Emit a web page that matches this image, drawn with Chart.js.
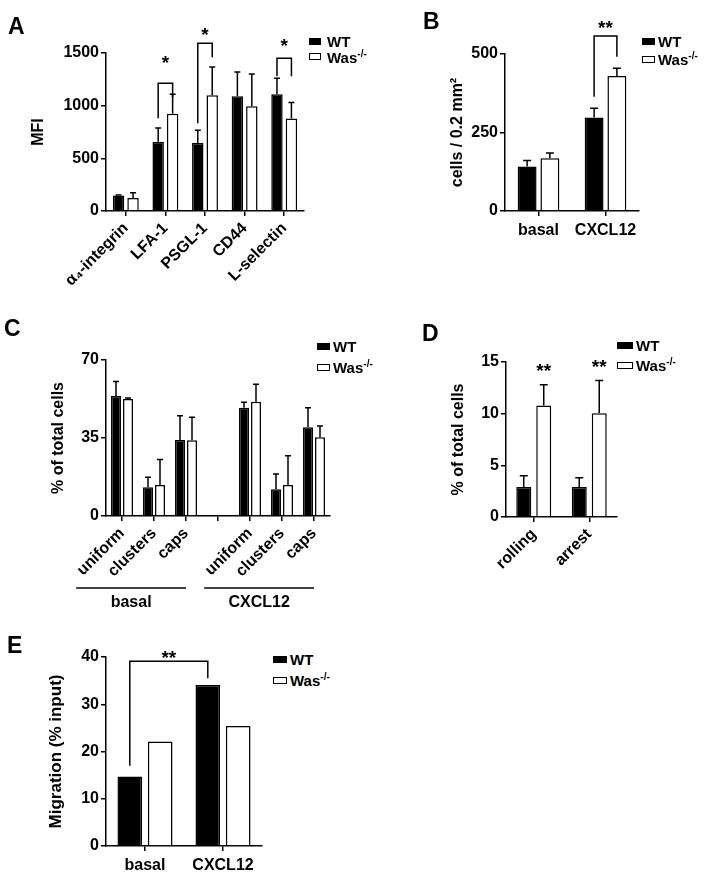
<!DOCTYPE html>
<html><head><meta charset="utf-8">
<script src="https://cdn.jsdelivr.net/npm/chart.js@4/dist/chart.umd.min.js"></script>
<style>
html,body{margin:0;padding:0;background:#fff;}
body{width:715px;height:877px;position:relative;overflow:hidden;font-family:"Liberation Sans",Arial,Helvetica,sans-serif;color:#000;}
canvas{position:absolute;}
.letter{position:absolute;font-weight:bold;font-size:23px;line-height:23px;}
.sw{position:absolute;box-sizing:border-box;height:7px;border:1.5px solid #000;background:#fff;}
.sw.f{background:#000;}
.lt{position:absolute;font-weight:bold;font-size:15px;line-height:15px;white-space:nowrap;}
.lt sup{font-size:10px;line-height:0;vertical-align:6px;}
</style>
</head>
<body>
<canvas id="cA" width="312" height="320" style="left:0;top:0"></canvas>
<canvas id="cB" width="265" height="250" style="left:380px;top:0"></canvas>
<canvas id="cC" width="340" height="300" style="left:0;top:320px"></canvas>
<canvas id="cD" width="222" height="300" style="left:400px;top:320px"></canvas>
<canvas id="cE" width="265" height="257" style="left:0;top:620px"></canvas>

<div class="letter" style="left:8px;top:15px">A</div>
<div class="letter" style="left:423px;top:10px">B</div>
<div class="letter" style="left:4px;top:317px">C</div>
<div class="letter" style="left:422px;top:322px">D</div>
<div class="letter" style="left:7px;top:634px">E</div>

<div class="sw f" style="left:309px;top:38px;width:12px"></div><div class="lt" style="left:327px;top:34px">WT</div>
<div class="sw" style="left:309px;top:53px;width:12px"></div><div class="lt" style="left:327px;top:50px">Was<sup>-/-</sup></div>

<div class="sw f" style="left:642px;top:38px;width:13px"></div><div class="lt" style="left:658px;top:34px">WT</div>
<div class="sw" style="left:642px;top:56px;width:13px"></div><div class="lt" style="left:658px;top:52px">Was<sup>-/-</sup></div>

<div class="sw f" style="left:317px;top:343px;width:13px"></div><div class="lt" style="left:333px;top:339px">WT</div>
<div class="sw" style="left:317px;top:364px;width:13px"></div><div class="lt" style="left:333px;top:360px">Was<sup>-/-</sup></div>

<div class="sw f" style="left:617px;top:342px;width:16px"></div><div class="lt" style="left:636px;top:338px">WT</div>
<div class="sw" style="left:617px;top:362px;width:16px"></div><div class="lt" style="left:636px;top:358px">Was<sup>-/-</sup></div>

<div class="sw f" style="left:273px;top:656px;width:14px"></div><div class="lt" style="left:290px;top:652px">WT</div>
<div class="sw" style="left:273px;top:677px;width:14px"></div><div class="lt" style="left:290px;top:673px">Was<sup>-/-</sup></div>

<script>
// ---------------- DATA ----------------
// Panel A (MFI)
const catA = ['\u03B1\u2084-integrin', 'LFA-1', 'PSGL-1', 'CD44', 'L-selectin'];
const wtA = [148, 658, 646, 1089, 1108];
const wtAUpper = [152, 788, 766, 1320, 1260];
const koA = [123, 924, 1098, 994, 878];
const koAUpper = [174, 1108, 1367, 1300, 1030];
const ticksA = [0, 500, 1000, 1500];
// significance brackets: [category, left-leg bottom, top, right-leg bottom, star level]
const sigA = [
  [1, 880, 1213, 1080, 1450],
  [2, 833, 1593, 1460, 1720],
  [4, 1280, 1450, 1279, 1610]
];

// Panel B (cells / 0.2 mm2)
const catB = ['basal', 'CXCL12'];
const wtB = [142, 298];
const wtBUpper = [161, 327];
const koB = [168, 430];
const koBUpper = [185, 455];
const ticksB = [0, 250, 500];
const sigB = [[1, 364, 557, 491, 599]];

// Panel C (% of total cells)
const catC = ['uniform', 'clusters', 'caps', '', 'uniform', 'clusters', 'caps'];
const wtC = [53.8, 12.9, 34.1, null, 48.6, 12.0, 39.8];
const wtCUpper = [60.3, 17.4, 45.0, null, 51.0, 18.8, 48.6];
const koC = [52.5, 13.9, 34.0, null, 51.3, 13.9, 35.3];
const koCUpper = [52.9, 25.4, 44.3, null, 59.1, 27.0, 40.4];
const ticksC = [0, 35, 70];
const groupsC = ['basal', 'CXCL12'];

// Panel D (% of total cells)
const catD = ['rolling', 'arrest'];
const wtD = [2.9, 2.9];
const wtDUpper = [4.0, 3.8];
const koD = [10.8, 10.05];
const koDUpper = [12.8, 13.2];
const ticksD = [0, 5, 10, 15];
const starsD = [[0, 14.6], [1, 15.0]];

// Panel E (Migration % input)
const catE = ['basal', 'CXCL12'];
const wtE = [14.7, 34.1];
const koE = [22.1, 25.4];
const ticksE = [0, 10, 20, 30, 40];
const sigE = [[0, 17.0, 39.1, 35.5, 40.9]]; // basal WT -> CXCL12 WT

// ---------------- RENDERING ----------------
const FONT = '"Liberation Sans", Arial, Helvetica, sans-serif';
Chart.defaults.font.family = FONT;
Chart.defaults.color = '#000';
Chart.defaults.animation = false;

const errorBars = {
  id: 'errorBars',
  afterDatasetsDraw(chart, args, opts) {
    const ctx = chart.ctx, ys = chart.scales.y;
    chart.data.datasets.forEach((ds, di) => {
      if (!ds.upper) return;
      const meta = chart.getDatasetMeta(di);
      meta.data.forEach((bar, i) => {
        const v = ds.data[i], u = ds.upper[i];
        if (v == null || u == null) return;
        const y0 = ys.getPixelForValue(v), y1 = ys.getPixelForValue(u);
        ctx.save();
        ctx.strokeStyle = '#000'; ctx.lineWidth = 1.5;
        ctx.beginPath();
        ctx.moveTo(bar.x, y0); ctx.lineTo(bar.x, y1);
        ctx.moveTo(bar.x - opts.cap, y1); ctx.lineTo(bar.x + opts.cap, y1);
        ctx.stroke();
        ctx.restore();
      });
    });
  }
};

function drawStar(ctx, x, yc, text, size) {
  ctx.save();
  ctx.font = 'bold ' + size + 'px ' + FONT;
  ctx.fillStyle = '#000';
  ctx.textAlign = 'center';
  ctx.textBaseline = 'alphabetic';
  ctx.fillText(text, x, yc + 0.57 * size);
  ctx.restore();
}

const sigPlugin = {
  id: 'sig',
  afterDraw(chart, args, opts) {
    const ctx = chart.ctx, ys = chart.scales.y;
    const m0 = chart.getDatasetMeta(0), m1 = chart.getDatasetMeta(1);
    (opts.brackets || []).forEach(b => {
      const [cat, yl, yt, yr, ys2] = b;
      const xl = m0.data[cat].x;
      const xr = opts.acrossWT ? m0.data[cat + 1].x : m1.data[cat].x;
      ctx.save();
      ctx.strokeStyle = '#000'; ctx.lineWidth = 1.5;
      ctx.beginPath();
      ctx.moveTo(xl, ys.getPixelForValue(yl));
      ctx.lineTo(xl, ys.getPixelForValue(yt));
      ctx.lineTo(xr, ys.getPixelForValue(yt));
      ctx.lineTo(xr, ys.getPixelForValue(yr));
      ctx.stroke();
      ctx.restore();
      drawStar(ctx, (xl + xr) / 2, ys.getPixelForValue(ys2), opts.text, opts.size);
    });
    (opts.stars || []).forEach(s => {
      drawStar(ctx, m1.data[s[0]].x, ys.getPixelForValue(s[1]), opts.text, opts.size);
    });
  }
};

const groupPlugin = {
  id: 'groups',
  afterDraw(chart, args, opts) {
    if (!opts.labels) return;
    const ctx = chart.ctx, xs = chart.scales.x;
    const slot = xs.getPixelForValue(1) - xs.getPixelForValue(0);
    const base = chart.chartArea.bottom;
    opts.labels.forEach((lab, g) => {
      const i0 = g * 4, i1 = g * 4 + 2;
      const x1 = xs.getPixelForValue(i0) - opts.extL * slot;
      const x2 = xs.getPixelForValue(i1) + opts.extR * slot;
      ctx.save();
      ctx.strokeStyle = '#000'; ctx.lineWidth = 1.5;
      ctx.beginPath(); ctx.moveTo(x1, base + opts.lineY); ctx.lineTo(x2, base + opts.lineY); ctx.stroke();
      ctx.font = 'bold 16px ' + FONT;
      ctx.fillStyle = '#000'; ctx.textAlign = 'center'; ctx.textBaseline = 'middle';
      ctx.fillText(lab, (x1 + x2) / 2, base + opts.textY);
      ctx.restore();
    });
  }
};

function build(id, p) {
  const datasets = [
    { label: 'WT', data: p.wt, upper: p.wtUp, backgroundColor: '#000', borderColor: '#000', borderWidth: 1.5,
      categoryPercentage: p.catPct, barPercentage: p.barPct },
    { label: 'Was-/-', data: p.ko, upper: p.koUp, backgroundColor: '#fff', borderColor: '#000', borderWidth: 1.5,
      categoryPercentage: p.catPct, barPercentage: p.barPct }
  ];
  return new Chart(document.getElementById(id), {
    type: 'bar',
    data: { labels: p.labels, datasets },
    options: {
      responsive: false,
      devicePixelRatio: 1,
      animation: false,
      layout: { padding: p.pad },
      plugins: {
        legend: { display: false },
        tooltip: { enabled: false },
        errorBars: { cap: p.cap },
        sig: { brackets: p.brackets, stars: p.stars, text: p.sigText, size: 19, acrossWT: p.acrossWT },
        groups: p.groups || {}
      },
      scales: {
        x: {
          offset: true,
          grid: { display: true, drawOnChartArea: false, drawTicks: true, tickLength: 5, color: '#000', lineWidth: 1.5, offset: false },
          border: { display: true, color: '#000', width: 1.5 },
          ticks: { font: { size: 16, weight: 'bold' }, color: '#000', maxRotation: p.rot, minRotation: p.rot, padding: p.tickPad, autoSkip: false },
          afterFit(s) { s.height = p.xH; }
        },
        y: {
          min: 0, max: p.ticks[p.ticks.length - 1],
          afterBuildTicks(s) { s.ticks = p.ticks.map(v => ({ value: v })); },
          ticks: { font: { size: 16, weight: 'bold' }, color: '#000', padding: 2, callback: v => String(v) },
          grid: { display: true, drawOnChartArea: false, drawTicks: true, tickLength: 5, color: '#000', lineWidth: 1.5 },
          border: { display: true, color: '#000', width: 1.5 },
          title: { display: true, text: p.title, font: { size: p.titleSize, weight: 'bold' }, color: '#000', padding: 0 },
          afterFit(s) { s.width = p.yW; }
        }
      }
    },
    plugins: [errorBars, sigPlugin, groupPlugin]
  });
}

build('cA', { labels: catA, wt: wtA, wtUp: wtAUpper, ko: koA, koUp: koAUpper, ticks: ticksA,
  title: 'MFI', titleSize: 16, pad: { left: 29, top: 53, right: 8, bottom: 0 }, yW: 77, xH: 109,
  catPct: 0.73, barPct: 0.79, rot: 45, tickPad: 3, cap: 3, brackets: sigA, sigText: '*' });

build('cB', { labels: catB, wt: wtB, wtUp: wtBUpper, ko: koB, koUp: koBUpper, ticks: ticksB,
  title: 'cells / 0.2 mm\u00B2', titleSize: 16, pad: { left: 68, top: 54, right: 6, bottom: 0 }, yW: 57, xH: 39,
  catPct: 0.68, barPct: 0.83, rot: 0, tickPad: 5, cap: 4, brackets: sigB, sigText: '**' });

build('cC', { labels: catC, wt: wtC, wtUp: wtCUpper, ko: koC, koUp: koCUpper, ticks: ticksC,
  title: '% of total cells', titleSize: 16, pad: { left: 49, top: 40, right: 10, bottom: 0 }, yW: 57, xH: 104,
  catPct: 0.75, barPct: 0.83, rot: 45, tickPad: 3, cap: 3, sigText: '*',
  groups: { labels: groupsC, extL: 1.43, extR: 0.0, lineY: 72, textY: 87 } });

build('cD', { labels: catD, wt: wtD, wtUp: wtDUpper, ko: koD, koUp: koDUpper, ticks: ticksD,
  title: '% of total cells', titleSize: 16, pad: { left: 49, top: 42, right: 5, bottom: 0 }, yW: 57, xH: 103,
  catPct: 0.72, barPct: 0.75, rot: 45, tickPad: 3, cap: 4, stars: starsD, sigText: '**' });

build('cE', { labels: catE, wt: wtE, ko: koE, ticks: ticksE,
  title: 'Migration (% input)', titleSize: 17, pad: { left: 46, top: 37, right: 3, bottom: 0 }, yW: 60, xH: 31,
  catPct: 0.78, barPct: 0.81, rot: 0, tickPad: 5, cap: 4, brackets: sigE, sigText: '**', acrossWT: true });
</script>
</body></html>
